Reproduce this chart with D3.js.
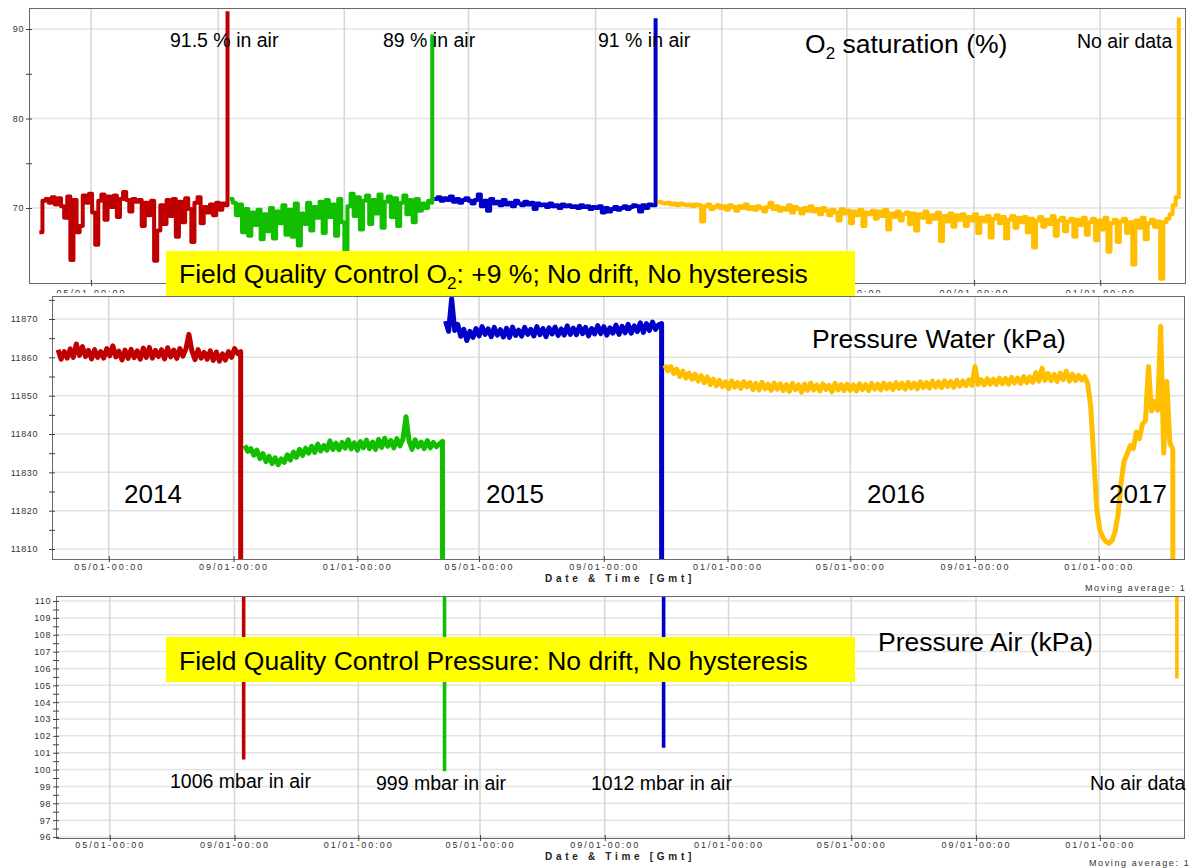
<!DOCTYPE html>
<html>
<head>
<meta charset="utf-8">
<script src="https://cdn.jsdelivr.net/npm/d3@7"></script>
<style>
  body { margin: 0; background: #fff; }
  svg { display: block; font-family: "Liberation Sans", Arial, sans-serif; }
</style>
</head>
<body>
<svg id="chart" width="1190" height="868"></svg>
<script>
// one deployment per colour, sampled every 3 days, last point = reading in air
const segColors = ["#c00000", "#12bf00", "#0000c8", "#ffbf00"];
const segStarts = ["2014-03-12", "2014-09-12", "2015-03-29", "2015-10-31"];
const airDates  = ["2014-09-10", "2015-03-27", "2015-10-29", "2017-03-18"];
const stepDays = 3;

// O2 saturation (%)
const o2Red = [67.3, 70.8, 71.0, 70.6, 71.2, 70.4, 71.1, 70.2, 68.9, 71.3,
  64.2, 70.9, 67.3, 68.0, 71.4, 70.6, 71.6, 69.5, 65.9, 70.8,
  71.5, 68.7, 71.3, 70.1, 71.4, 69.0, 71.0, 71.8, 70.9, 69.6,
  71.0, 70.7, 70.9, 68.0, 70.6, 69.2, 70.8, 64.1, 67.5, 70.3,
  68.2, 70.9, 69.1, 71.0, 66.8, 70.7, 68.4, 71.1, 69.9, 66.2,
  70.6, 71.2, 68.3, 70.1, 69.5, 70.4, 69.2, 70.6, 69.8, 70.5,
  70.3];
const o2Green = [71.0, 70.6, 69.2, 70.4, 67.3, 69.9, 66.9, 69.5, 68.1, 69.8,
  66.5, 69.3, 67.4, 70.0, 66.6, 69.6, 68.3, 70.3, 67.0, 69.8,
  66.8, 70.5, 65.8, 69.4, 68.2, 70.6, 67.5, 70.1, 68.9, 70.7,
  67.2, 70.9, 69.0, 70.4, 66.9, 71.0, 68.4, 65.3, 70.2, 71.6,
  69.1, 71.2, 67.6, 70.8, 71.4, 68.2, 70.9, 69.4, 71.5, 67.8,
  70.7, 71.3, 69.0, 71.1, 68.0, 70.6, 71.4, 69.3, 70.9, 68.4,
  71.0, 69.7, 70.5, 70.0, 70.8, 70.6];
const o2Blue = [71.0, 71.2, 70.8, 71.1, 70.9, 71.3, 70.7, 71.0, 70.6, 70.9,
  71.1, 70.8, 70.5, 70.9, 71.5, 70.2, 70.8, 69.7, 71.0, 70.5,
  70.7, 70.3, 70.9, 70.4, 70.6, 70.2, 70.8, 70.5, 70.3, 70.7,
  70.4, 70.6, 69.9, 70.5, 70.3, 70.4, 70.1, 70.5, 70.2, 70.3,
  70.0, 70.4, 70.2, 70.3, 70.1, 70.2, 70.0, 70.3, 70.1, 70.2,
  69.9, 70.1, 70.0, 70.2, 69.5, 70.0, 69.6, 69.9, 70.1, 69.8,
  70.0, 70.2, 69.9, 70.1, 70.3, 70.2, 69.6, 70.3, 70.0, 70.4,
  70.3, 70.3];
const o2Yellow = [70.7, 70.6, 70.5, 70.6, 70.4, 70.5, 70.3, 70.5, 70.4, 70.3,
  70.4, 70.2, 70.4, 70.3, 68.5, 70.2, 70.4, 69.9, 70.1, 70.3,
  70.0, 70.2, 69.8, 70.3, 70.1, 69.7, 70.2, 70.0, 70.4, 69.9,
  70.1, 69.8, 70.2, 70.0, 69.6, 70.1, 70.6, 69.9, 70.2, 69.7,
  70.0, 69.8, 70.3, 69.5, 70.1, 69.9, 69.4, 70.0, 69.7, 70.2,
  69.6, 69.9, 69.3, 70.0, 69.7, 69.2, 69.8, 69.5, 68.6, 69.9,
  69.4, 69.7, 68.3, 69.6, 69.2, 69.8, 68.0, 69.5, 69.3, 69.7,
  68.8, 69.6, 69.1, 69.8, 67.6, 69.4, 69.0, 69.6, 68.6, 69.3,
  69.5, 68.2, 69.4, 67.5, 69.3, 68.9, 69.6, 68.4, 69.2, 68.8,
  69.5, 66.3, 69.1, 68.5, 69.4, 67.9, 69.2, 68.7, 69.3, 68.0,
  69.0, 68.6, 69.3, 67.2, 68.9, 68.5, 69.1, 66.7, 68.8, 69.2,
  68.3, 69.0, 66.6, 68.7, 69.1, 67.8, 68.9, 68.4, 69.0, 67.3,
  68.8, 65.6, 68.6, 69.0, 67.9, 68.7, 68.2, 69.1, 66.9, 68.6,
  68.9, 67.4, 68.5, 68.8, 66.8, 68.7, 68.1, 68.9, 67.0, 68.4,
  68.8, 66.4, 68.6, 67.6, 68.9, 65.1, 68.3, 68.7, 66.2, 68.5,
  68.8, 67.2, 68.4, 63.7, 68.6, 67.8, 68.9, 66.5, 68.3, 68.7,
  67.9, 68.5, 62.1, 68.4, 68.8, 69.3, 70.3, 71.2];
const o2Air = [92.0, 89.4, 91.2, 91.3];

// Pressure (kPa): water values, last point in air
const pRed = [11862.0, 11859.5, 11861.5, 11859.8, 11862.2, 11860.0, 11863.5, 11860.5, 11862.8, 11860.2,
  11861.8, 11859.6, 11862.0, 11860.0, 11861.5, 11859.8, 11862.3, 11860.4, 11863.0, 11860.1,
  11861.6, 11859.3, 11861.9, 11859.7, 11862.1, 11859.9, 11861.7, 11859.5, 11862.4, 11860.0,
  11862.6, 11859.8, 11861.8, 11860.2, 11862.0, 11859.6, 11862.5, 11860.1, 11861.9, 11859.7,
  11862.3, 11860.3, 11862.2, 11866.0, 11861.6, 11859.4, 11862.0, 11859.8, 11861.3, 11859.5,
  11861.7, 11859.2, 11861.4, 11859.0, 11860.9, 11859.3, 11861.5, 11860.0, 11862.3, 11861.0,
  11861.5];
const pGreen = [11837.0, 11835.5, 11836.2, 11834.5, 11835.8, 11833.6, 11834.9, 11832.8, 11834.2, 11832.3,
  11833.8, 11832.0, 11833.5, 11832.6, 11834.6, 11833.2, 11835.3, 11833.9, 11836.0, 11834.4,
  11836.3, 11835.0, 11836.8, 11835.2, 11837.4, 11835.6, 11837.0, 11835.8, 11838.2, 11836.0,
  11837.6, 11835.9, 11837.8, 11836.3, 11838.5, 11836.1, 11837.7, 11835.8, 11838.0, 11836.4,
  11838.4, 11836.2, 11837.9, 11836.0, 11838.6, 11836.5, 11838.9, 11836.8, 11838.3, 11836.4,
  11838.8, 11836.9, 11838.7, 11844.5, 11838.2, 11836.0, 11838.5, 11836.6, 11837.9, 11836.2,
  11838.3, 11836.4, 11837.8, 11836.7, 11837.4, 11838.1];
const pBlue = [11869.5, 11866.8, 11875.3, 11867.0, 11868.6, 11865.5, 11867.3, 11864.4, 11866.8, 11865.2,
  11867.5, 11865.6, 11868.0, 11866.0, 11867.4, 11865.4, 11867.8, 11865.8, 11867.2, 11865.3,
  11867.6, 11865.2, 11867.9, 11865.7, 11867.1, 11865.5, 11867.8, 11866.0, 11867.3, 11865.6,
  11868.0, 11865.9, 11867.5, 11865.4, 11867.7, 11866.1, 11867.9, 11865.7, 11867.4, 11865.8,
  11868.2, 11866.0, 11867.6, 11865.9, 11868.1, 11866.2, 11867.8, 11865.6, 11867.5, 11866.1,
  11868.3, 11866.2, 11868.0, 11865.8, 11867.7, 11866.3, 11868.4, 11866.0, 11868.1, 11866.4,
  11868.6, 11866.3, 11868.2, 11866.7, 11869.0, 11866.5, 11868.8, 11867.0, 11869.2, 11867.3,
  11868.5, 11868.8];
const pYellow = [11858.0, 11856.5, 11857.6, 11855.8, 11856.9, 11855.0, 11856.4, 11854.6, 11855.9, 11854.3,
  11855.6, 11853.8, 11855.2, 11853.4, 11854.9, 11852.9, 11854.3, 11852.6, 11854.0, 11852.4,
  11853.6, 11851.8, 11853.9, 11852.2, 11853.5, 11851.9, 11853.7, 11852.3, 11853.4, 11851.6,
  11853.2, 11851.5, 11853.5, 11851.8, 11853.0, 11851.4, 11853.3, 11851.7, 11853.1, 11851.3,
  11852.9, 11851.1, 11853.2, 11851.6, 11852.8, 11850.9, 11853.0, 11851.4, 11853.3, 11851.5,
  11852.8, 11851.2, 11853.1, 11851.6, 11852.7, 11851.0, 11853.2, 11851.5, 11852.9, 11851.3,
  11853.0, 11851.4, 11852.8, 11851.2, 11853.1, 11851.6, 11852.9, 11851.3, 11853.2, 11851.7,
  11853.0, 11851.5, 11853.3, 11851.8, 11853.1, 11851.6, 11853.4, 11851.9, 11853.2, 11851.7,
  11853.5, 11852.0, 11853.3, 11851.8, 11853.6, 11852.1, 11853.4, 11852.0, 11853.8, 11852.2,
  11853.6, 11852.1, 11853.9, 11852.4, 11853.7, 11852.2, 11854.0, 11852.5, 11853.8, 11852.6,
  11854.1, 11852.7, 11857.6, 11852.9, 11854.2, 11852.8, 11854.4, 11853.0, 11854.3, 11852.9,
  11854.6, 11853.1, 11854.5, 11853.0, 11854.8, 11853.3, 11854.6, 11853.2, 11855.0, 11853.4,
  11854.9, 11853.5, 11856.0, 11853.8, 11857.2, 11854.0, 11855.8, 11853.9, 11855.5, 11853.7,
  11855.9, 11854.2, 11856.4, 11853.8, 11855.6, 11853.9, 11855.3, 11854.1, 11855.0, 11853.2,
  11847.2, 11834.0, 11820.5, 11815.0, 11813.0, 11812.0, 11811.5, 11812.2, 11814.5, 11819.0,
  11827.5, 11833.0, 11834.8, 11837.0, 11836.2, 11840.5, 11838.8, 11842.6, 11843.5, 11857.6,
  11846.0, 11848.5, 11846.2, 11868.1, 11835.0, 11853.7, 11837.8, 11836.0];
const pAir = [100.6, 99.9, 101.3, 105.4];

// y tick labels per panel
const o2Ticks = [70, 80, 90];
const waterTicks = [11810, 11820, 11830, 11840, 11850, 11860, 11870];
const airTicks = [96, 97, 98, 99, 100, 101, 102, 103, 104, 105, 106, 107, 108, 109, 110];

const parse = d3.utcParse("%Y-%m-%d");
const fmtTick = d3.utcFormat("%m/%d-%H:%M");

function buildSeries(lists, air) {
  return lists.map((vals, k) => {
    const t0 = parse(segStarts[k]);
    const pts = vals.map((v, i) => ({ t: d3.utcDay.offset(t0, i * stepDays), v: v }));
    pts.push({ t: parse(airDates[k]), v: air[k] });
    return { color: segColors[k], pts: pts };
  });
}

const o2Series = buildSeries([o2Red, o2Green, o2Blue, o2Yellow], o2Air);
const pSeries = buildSeries([pRed, pGreen, pBlue, pYellow], pAir);

const svg = d3.select("#chart");

function drawPanel(p) {
  const g = svg.append("g");
  if (p.bg) {
    g.append("rect").attr("x", 0).attr("y", p.bg[0]).attr("width", 1190)
      .attr("height", p.bg[1] - p.bg[0]).attr("fill", "#fff");
  }
  const x = d3.scaleUtc().domain([parse(p.t0), parse(p.t1)]).range([p.left, p.right]);
  const y = d3.scaleLinear().domain(p.yDomain).range([p.bottom, p.top]);
  const months = x.ticks(d3.utcMonth.every(4));

  // grid
  g.append("g").selectAll("line").data(p.ticks).join("line")
    .attr("x1", p.left).attr("x2", p.right)
    .attr("y1", d => y(d)).attr("y2", d => y(d))
    .attr("stroke", "#e4e4e4").attr("stroke-width", 1.5);
  g.append("g").selectAll("line").data(months).join("line")
    .attr("x1", d => x(d)).attr("x2", d => x(d))
    .attr("y1", p.top).attr("y2", p.bottom)
    .attr("stroke", "#d6d6d6").attr("stroke-width", 1.5);

  // data
  svg.append("clipPath").attr("id", "clip-" + p.id).append("rect")
    .attr("x", p.left).attr("y", p.top)
    .attr("width", p.right - p.left).attr("height", p.bottom - p.top);
  const line = d3.line().x(d => x(d.t)).y(d => y(d.v)).curve(p.curve);
  g.append("g").attr("clip-path", "url(#clip-" + p.id + ")")
    .selectAll("path").data(p.series).join("path")
    .attr("d", s => line(s.pts))
    .attr("fill", "none")
    .attr("stroke", s => s.color)
    .attr("stroke-width", p.lineWidth)
    .attr("stroke-linejoin", "round");

  // frame
  g.append("rect").attr("x", p.left + 0.5).attr("y", p.top + 0.5)
    .attr("width", p.right - p.left).attr("height", p.bottom - p.top)
    .attr("fill", "none").attr("stroke", "#6a6a6a");

  // y axis: labelled majors + unlabelled minors halfway
  const minors = p.ticks.slice(1).map((d, i) => (d + p.ticks[i]) / 2);
  if (p.minorTop) minors.push(p.ticks[p.ticks.length - 1] + (p.ticks[1] - p.ticks[0]) / 2);
  const ya = g.append("g").attr("transform", "translate(" + p.left + ",0)")
    .call(d3.axisLeft(y).tickValues(p.ticks.concat(minors)).tickSize(3)
      .tickFormat(d => p.ticks.includes(d) ? d : ""));
  ya.attr("font-family", null).attr("font-size", 9);
  ya.select(".domain").remove();
  ya.selectAll(".tick line").attr("x1", -3).attr("x2", 3).attr("stroke", "#444");
  ya.selectAll(".tick text").attr("x", p.yLabelRight - p.left).attr("fill", "#333")
    .attr("letter-spacing", 0.6);

  // x axis (labels hidden where the panel is covered in the original)
  const hidden = p.hideLabels || [0, 0];
  const xa = g.append("g").attr("transform", "translate(0," + p.bottom + ")")
    .call(d3.axisBottom(x).tickValues(months).tickSize(3)
      .tickFormat(d => (x(d) > hidden[0] && x(d) < hidden[1]) ? "" : fmtTick(d)));
  xa.attr("font-family", null).attr("font-size", 9);
  xa.select(".domain").remove();
  xa.selectAll(".tick line").attr("y1", -3).attr("y2", 3).attr("stroke", "#444");
  xa.selectAll(".tick text").attr("y", p.xLabelY - p.bottom).attr("dy", 0)
    .attr("fill", "#333").attr("letter-spacing", 2);

  if (p.footer) {
    g.append("text").attr("x", 620).attr("y", p.footer[0]).attr("text-anchor", "middle")
      .attr("font-size", 10).attr("font-weight", "bold").attr("letter-spacing", 3.7)
      .attr("fill", "#222").text("Date & Time [Gmt]");
    g.append("text").attr("x", p.footer[2]).attr("y", p.footer[1])
      .attr("font-size", 9).attr("letter-spacing", 1.6).attr("fill", "#333")
      .text("Moving average: 1");
  }
  return g;
}

function label(g, txt, x, y, size) {
  return g.append("text").attr("x", x).attr("y", y).attr("font-size", size)
    .attr("fill", "#000").text(txt);
}

// top: O2 saturation (blocky logger trace)
const gO2 = drawPanel({
  id: "o2", series: o2Series, lineWidth: 4, curve: d3.curveStepAfter,
  left: 29, right: 1185, top: 8, bottom: 283,
  t0: "2014-03-02", t1: "2017-03-24", yDomain: [61.62, 92.35],
  ticks: o2Ticks, minorTop: false, yLabelRight: 24, xLabelY: 296,
  hideLabels: [160, 800]
});
label(gO2, "91.5 % in air", 170, 47, 19.5);
label(gO2, "89 % in air", 383, 47, 19.5);
label(gO2, "91 % in air", 598, 47, 19.5);
label(gO2, "No air data", 1077, 48, 19.5);
const o2Title = gO2.append("text").attr("x", 805).attr("y", 53).attr("font-size", 26.5).attr("fill", "#000");
o2Title.append("tspan").text("O");
o2Title.append("tspan").attr("font-size", 17).attr("dy", 6).text("2");
o2Title.append("tspan").attr("dy", -6).text(" saturation (%)");

// middle: water pressure
const gW = drawPanel({
  id: "water", series: pSeries, lineWidth: 5, curve: d3.curveLinear,
  left: 52, right: 1184, top: 296, bottom: 559, bg: [293, 593],
  t0: "2014-03-06", t1: "2017-03-26", yDomain: [11807.4, 11876.0],
  ticks: waterTicks, minorTop: true, yLabelRight: 38, xLabelY: 570,
  footer: [582, 591, 1085]
});
label(gW, "Pressure Water (kPa)", 812, 348, 26.5);
label(gW, "2014", 124, 503, 26);
label(gW, "2015", 486, 503, 26);
label(gW, "2016", 867, 503, 26);
label(gW, "2017", 1109, 503, 26);

// bottom: air pressure
const gA = drawPanel({
  id: "air", series: pSeries, lineWidth: 3.6, curve: d3.curveLinear,
  left: 56, right: 1184, top: 596, bottom: 838, bg: [593, 868],
  t0: "2014-03-09", t1: "2017-03-25", yDomain: [95.94, 110.3],
  ticks: airTicks, minorTop: false, yLabelRight: 51, xLabelY: 848,
  footer: [860, 866, 1089]
});
label(gA, "Pressure Air (kPa)", 878, 651, 26.5);
label(gA, "1006 mbar in air", 170, 788, 19.5);
label(gA, "999 mbar in air", 376, 790, 19.5);
label(gA, "1012 mbar in air", 591, 790, 19.5);
label(gA, "No air data", 1090, 790, 19.5);

// yellow QC boxes on top of everything
const boxes = svg.append("g");
boxes.append("rect").attr("x", 166).attr("y", 251).attr("width", 689).attr("height", 45).attr("fill", "#ffff00");
const qc1 = boxes.append("text").attr("x", 179).attr("y", 283).attr("font-size", 26.5).attr("fill", "#000");
qc1.append("tspan").text("Field Quality Control O");
qc1.append("tspan").attr("font-size", 17).attr("dy", 6).text("2");
qc1.append("tspan").attr("dy", -6).text(": +9 %; No drift, No hysteresis");
boxes.append("rect").attr("x", 166).attr("y", 637).attr("width", 689).attr("height", 45).attr("fill", "#ffff00");
boxes.append("text").attr("x", 179).attr("y", 670).attr("font-size", 26.5).attr("fill", "#000")
  .text("Field Quality Control Pressure: No drift, No hysteresis");
</script>
</body>
</html>
